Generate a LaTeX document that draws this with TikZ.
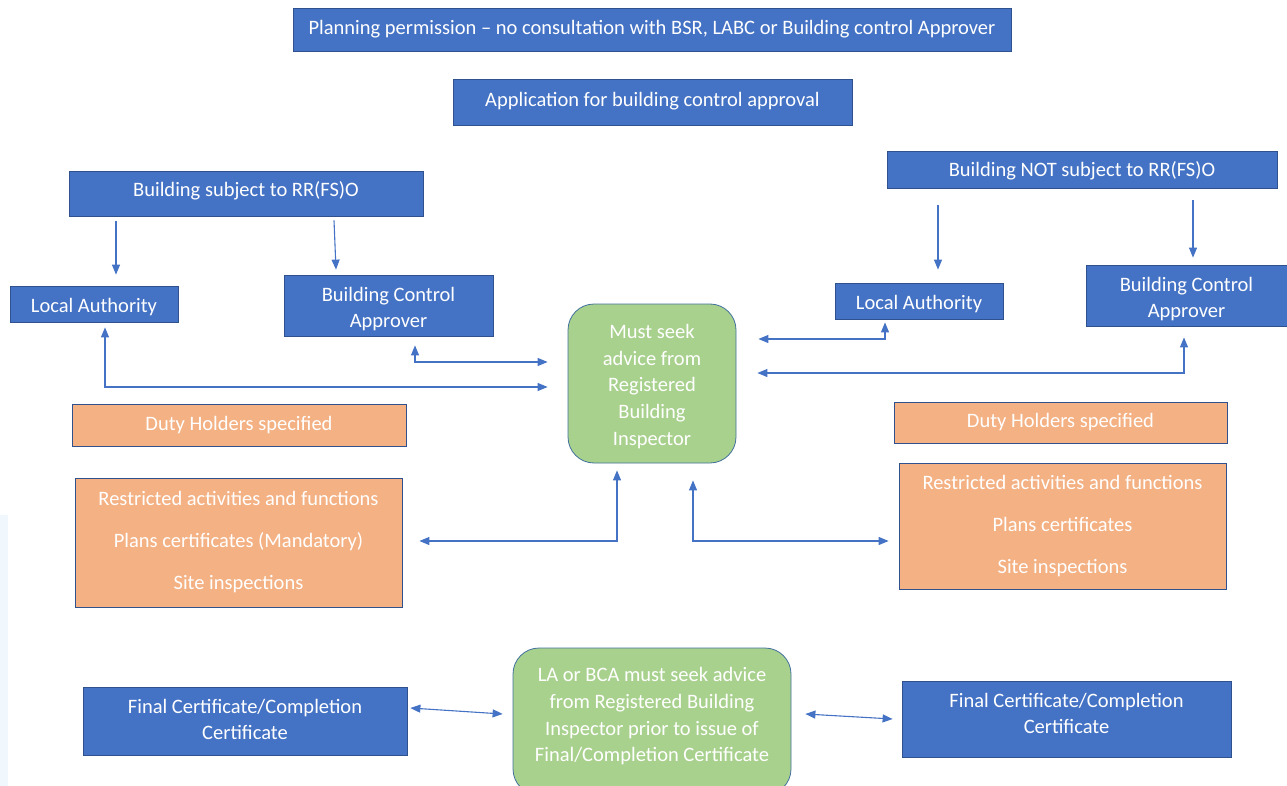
\documentclass[tikz,border=0pt]{standalone}
\usepackage{fontspec}
\setmainfont{Carlito}
\usetikzlibrary{arrows.meta}
\definecolor{boxblue}{HTML}{4472C4}
\definecolor{edgeblue}{HTML}{2F528F}
\definecolor{boxorange}{HTML}{F4B183}
\definecolor{boxgreen}{HTML}{A9D18E}
\definecolor{edgegreen}{HTML}{41719C}
\definecolor{faint}{HTML}{F1F8FD}
\newcommand{\shifted}[2]{\raisebox{#1}[\height][\depth]{\begin{tabular}{@{}c@{}}#2\end{tabular}}}
\tikzset{
  bluebox/.style={rectangle, draw=edgeblue, line width=0.8pt, fill=boxblue, text=white, align=center, inner sep=0pt,
    font=\fontsize{20.5pt}{26pt}\selectfont},
  orangebox/.style={rectangle, draw=edgeblue, line width=0.8pt, fill=boxorange, text=white, align=center, inner sep=0pt,
    font=\fontsize{20.5pt}{42pt}\selectfont},
  greenbox/.style={rectangle, rounded corners=26pt, draw=edgegreen, line width=0.8pt, fill=boxgreen, text=white, align=center, inner sep=0pt,
    font=\fontsize{20.5pt}{26.7pt}\selectfont},
  arr/.style={draw=boxblue, line width=1.1pt, -{Triangle[length=10pt,width=8pt]}},
  darr/.style={draw=boxblue, line width=1.1pt, {Triangle[length=10pt,width=8pt]}-{Triangle[length=10pt,width=8pt]}},
}
\begin{document}
\begin{tikzpicture}[x=1pt,y=-1pt]
\useasboundingbox (0,0) rectangle (1287,786);
\begin{scope}
\clip (0,0) rectangle (1287,786);
\fill[faint] (0,515) rectangle (8,786);

\node[bluebox, minimum width=718pt, minimum height=43pt] (plan) at (652,29.5) {Planning permission -- no consultation with BSR, LABC or Building control Approver};
\node[bluebox, minimum width=399pt, minimum height=46pt] (app) at (652.5,102) {\shifted{1pt}{Application for building control approval}};

\node[bluebox, minimum width=354pt, minimum height=45pt] (bs) at (246,193.5) {\shifted{2pt}{Building subject to RR(FS)O}};
\node[bluebox, minimum width=168pt, minimum height=36pt] (la1) at (94,304) {\shifted{-3pt}{Local Authority}};
\node[bluebox, minimum width=209pt, minimum height=61pt] (bca1) at (388.5,305.5) {\shifted{-4pt}{Building Control\\Approver}};

\node[bluebox, minimum width=390pt, minimum height=37pt] (bn) at (1082,169.5) {\shifted{-2pt}{Building NOT subject to RR(FS)O}};
\node[bluebox, minimum width=168pt, minimum height=36pt] (la2) at (919,301) {\shifted{-3pt}{Local Authority}};
\node[bluebox, minimum width=201pt, minimum height=61pt] (bca2) at (1186.5,295.5) {\shifted{-4pt}{Building Control\\Approver}};

\node[greenbox, minimum width=168pt, minimum height=159pt] (g1) at (652,383.5) {\shifted{-3pt}{Must seek\\advice from\\Registered\\Building\\Inspector}};

\node[orangebox, minimum width=334pt, minimum height=42pt] (d1) at (239,425) {Duty Holders specified};
\node[orangebox, minimum width=333pt, minimum height=41pt] (d2) at (1060.5,422.5) {Duty Holders specified};

\node[orangebox, minimum width=327pt, minimum height=129pt] (r1) at (238.5,542.5) {Restricted activities and functions\\Plans certificates (Mandatory)\\Site inspections};
\node[orangebox, minimum width=327pt, minimum height=126pt] (r2) at (1062.5,526) {Restricted activities and functions\\Plans certificates\\Site inspections};

\node[bluebox, minimum width=324pt, minimum height=68pt] (f1) at (245,721) {\shifted{0pt}{Final Certificate/Completion\\Certificate}};
\node[greenbox, minimum width=278pt, minimum height=147pt] (g2) at (652,721.5) {\shifted{5pt}{LA or BCA must seek advice\\from Registered Building\\Inspector prior to issue of\\Final/Completion Certificate}};
\node[bluebox, minimum width=329pt, minimum height=76pt] (f2) at (1066.5,719) {\shifted{4pt}{Final Certificate/Completion\\Certificate}};

% top arrows
\draw[arr] ([xshift=-130pt,yshift=-5pt]bs.south) -- ([xshift=22pt,yshift=11pt]la1.north);
\draw[arr] ([xshift=88pt,yshift=-4pt]bs.south) -- ([xshift=-52.5pt,yshift=5pt]bca1.north);
\draw[arr] ([xshift=-144pt,yshift=-17pt]bn.south) -- ([xshift=19pt,yshift=13pt]la2.north);
\draw[arr] ([xshift=111pt,yshift=-12pt]bn.south) -- ([xshift=6.5pt,yshift=7pt]bca2.north);

% connectors to the central green box
\draw[darr] ([xshift=11pt,yshift=-5pt]la1.south) |- ([xshift=-20pt,yshift=-3.5pt]g1.west);
\draw[darr] ([xshift=26.5pt,yshift=-9pt]bca1.south) |- ([xshift=-20pt,yshift=21.5pt]g1.west);
\draw[darr] ([xshift=-34pt,yshift=-3pt]la2.south) |- ([xshift=22pt,yshift=44.5pt]g1.east);
\draw[darr] ([xshift=-2.5pt,yshift=-11pt]bca2.south) |- ([xshift=21pt,yshift=10.5pt]g1.east);
\draw[darr] ([xshift=-35pt,yshift=-7pt]g1.south) |- ([xshift=17pt,yshift=1.5pt]r1.east);
\draw[darr] ([xshift=41pt,yshift=-17pt]g1.south) |- ([xshift=-10pt,yshift=-15pt]r2.west);

% bottom connectors
\draw[darr] ([xshift=3pt,yshift=13pt]f1.east) -- ([xshift=-10pt,yshift=7.5pt]g2.west);
\draw[darr] ([xshift=14pt,yshift=7.5pt]g2.east) -- ([xshift=-9pt]f2.west);
\end{scope}
\end{tikzpicture}
\end{document}
